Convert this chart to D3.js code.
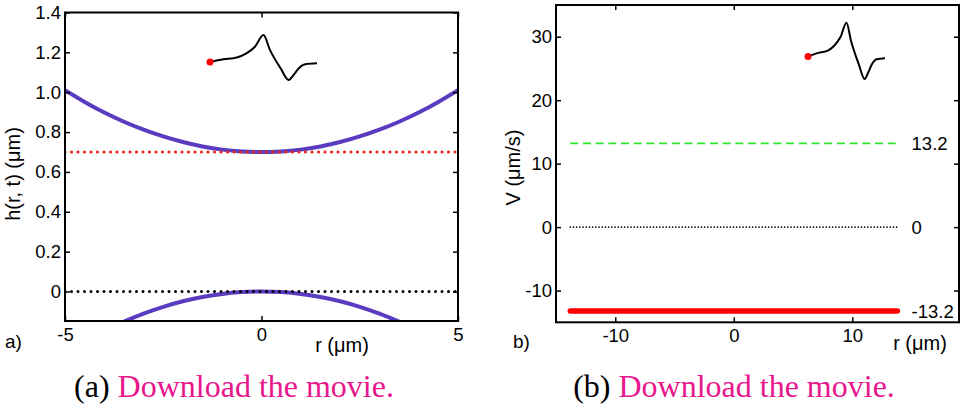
<!DOCTYPE html>
<html>
<head>
<meta charset="utf-8">
<script src="https://cdn.jsdelivr.net/npm/d3@7"></script>
<style>
  body { margin: 0; background: #fff; }
  svg { display: block; }
</style>
</head>
<body>
<div id="chart"></div>
<script>
// ---- data ----
// panel a: film profile h(r, t)
const rGrid  = [-5, -4.5, -4, -3.5, -3, -2.5, -2, -1.5, -1, -0.5, 0, 0.5, 1, 1.5, 2, 2.5, 3, 3.5, 4, 4.5, 5];
const hUpper = [1.010, 0.951, 0.898, 0.852, 0.812, 0.778, 0.750, 0.728, 0.712, 0.703, 0.700,
                0.703, 0.712, 0.728, 0.750, 0.778, 0.812, 0.852, 0.898, 0.951, 1.010];
const rLower = [-3.5, -3, -2.5, -2, -1.5, -1, -0.5, 0, 0.5, 1, 1.5, 2, 2.5, 3, 3.5];
const hLower = [-0.151, -0.111, -0.077, -0.049, -0.028, -0.012, -0.003, 0,
                -0.003, -0.012, -0.028, -0.049, -0.077, -0.111, -0.151];
const hGap = 0.7;
const hZero = 0;
const hTicksX = [-5, 0, 5];
const hTicksY = [0, 0.2, 0.4, 0.6, 0.8, 1.0, 1.2, 1.4];

// panel b: velocity V
const vLevels = [13.2, 0, -13.2];
const vLabels = ["13.2", "0", "-13.2"];
const vSpan = [-13.8, 13.8];
const vTicksX = [-10, 0, 10];
const vTicksY = [-10, 0, 10, 20, 30];

// small inset: time trace, red dot marks the current time
const insetT = [0, 0.125, 0.25, 0.34, 0.42, 0.50, 0.56, 0.66, 0.735, 0.78, 0.83, 0.89, 1.0];
const insetV = [0.40, 0.46, 0.50, 0.59, 0.74, 1.0, 0.67, 0.26, 0, 0.11, 0.26, 0.35, 0.37];

const captions = ["(a)", "(b)"];
const captionLink = "Download the movie.";

// ---- layout ----
const W = 965, H = 408;
const sans = "'Liberation Sans', Arial, sans-serif";
const serif = "'Liberation Serif', 'Times New Roman', serif";
const tickFs = 18.5;

const svg = d3.select("#chart").append("svg")
  .attr("width", W).attr("height", H);

// plain hyphen minus like the original
const intFmt = d => String(d);

// draw box + inward ticks on all four sides
function frame(g, x, y, xt, yt, fmt) {
  const [x0, x1] = x.range(), [y0, y1] = y.range();
  g.append("g").attr("transform", `translate(0,${y0})`)
    .call(d3.axisBottom(x).tickValues(xt).tickSize(-5).tickPadding(7).tickFormat(intFmt));
  g.append("g").attr("transform", `translate(0,${y1})`)
    .call(d3.axisTop(x).tickValues(xt).tickSize(-5).tickFormat(""));
  g.append("g").attr("transform", `translate(${x0},0)`)
    .call(d3.axisLeft(y).tickValues(yt).tickSize(-5).tickPadding(4).tickFormat(fmt));
  g.append("g").attr("transform", `translate(${x1},0)`)
    .call(d3.axisRight(y).tickValues(yt).tickSize(-5).tickFormat(""));
  g.selectAll(".domain").remove();
  g.selectAll(".tick line").attr("stroke", "#000").attr("stroke-width", 1.5);
  g.selectAll(".tick text").attr("font-family", sans).attr("font-size", tickFs).attr("fill", "#000");
  g.append("rect")
    .attr("x", x0).attr("y", y1).attr("width", x1 - x0).attr("height", y0 - y1)
    .attr("fill", "none").attr("stroke", "#000").attr("stroke-width", 2);
}

function inset(g, xr, yr) {
  const tx = d3.scaleLinear().domain([0, 1]).range(xr);
  const ty = d3.scaleLinear().domain([0, 1]).range(yr);
  const pts = insetT.map((t, i) => [t, insetV[i]]);
  g.append("path")
    .attr("d", d3.line().x(d => tx(d[0])).y(d => ty(d[1])).curve(d3.curveMonotoneX)(pts))
    .attr("fill", "none").attr("stroke", "#000").attr("stroke-width", 2);
  g.append("circle")
    .attr("cx", tx(insetT[0])).attr("cy", ty(insetV[0])).attr("r", 3.5)
    .attr("fill", "#ff0000");
}

// ---------------- panel a ----------------
const ga = svg.append("g");
const xa = d3.scaleLinear().domain([-5, 5]).range([65, 458]);
const ya = d3.scaleLinear().domain([-0.148, 1.4]).range([321, 12.5]);

ga.append("clipPath").attr("id", "clipA")
  .append("rect").attr("x", 65).attr("y", 12.5).attr("width", 393).attr("height", 308.5);

const pa = ga.append("g").attr("clip-path", "url(#clipA)");
const line = d3.line().curve(d3.curveNatural);

pa.append("path")
  .attr("d", line(rGrid.map((r, i) => [xa(r), ya(hUpper[i])])))
  .attr("fill", "none").attr("stroke", "#5a3cc0").attr("stroke-width", 4);
pa.append("path")
  .attr("d", line(rLower.map((r, i) => [xa(r), ya(hLower[i])])))
  .attr("fill", "none").attr("stroke", "#5a3cc0").attr("stroke-width", 4);

pa.append("line")
  .attr("x1", xa(-5)).attr("x2", xa(5)).attr("y1", ya(hGap)).attr("y2", ya(hGap))
  .attr("stroke", "#e8281a").attr("stroke-width", 3.2)
  .attr("stroke-linecap", "round").attr("stroke-dasharray", "0,6.5");
pa.append("line")
  .attr("x1", xa(-5)).attr("x2", xa(5)).attr("y1", ya(hZero)).attr("y2", ya(hZero))
  .attr("stroke", "#000").attr("stroke-width", 3)
  .attr("stroke-linecap", "round").attr("stroke-dasharray", "0,6.5");

frame(ga, xa, ya, hTicksX, hTicksY, d => d === 0 ? "0" : d.toFixed(1));
inset(ga, [210, 317], [80, 35]);

ga.append("text")
  .attr("transform", "translate(20,174) rotate(-90)")
  .attr("text-anchor", "middle").attr("font-family", sans).attr("font-size", 20)
  .text("h(r, t) (μm)");
ga.append("text").attr("x", 342).attr("y", 352)
  .attr("text-anchor", "middle").attr("font-family", sans).attr("font-size", 20)
  .text("r (μm)");
ga.append("text").attr("x", 5).attr("y", 348)
  .attr("font-family", sans).attr("font-size", 19).text("a)");

// ---------------- panel b ----------------
const gb = svg.append("g");
const xb = d3.scaleLinear().domain([-15, 19]).range([556, 959]);
const yb = d3.scaleLinear().domain([-15, 35]).range([322.3, 5]);

const vStyle = [
  { color: "#2ee62e", width: 1.6, dash: "8,4.7", cap: "butt" },
  { color: "#000", width: 1.7, dash: "0,3.2", cap: "round" },
  { color: "#ff0000", width: 5.5, dash: null, cap: "round" }
];

vLevels.forEach((v, i) => {
  const s = vStyle[i];
  gb.append("line")
    .attr("x1", xb(vSpan[0])).attr("x2", xb(vSpan[1]))
    .attr("y1", yb(v)).attr("y2", yb(v))
    .attr("stroke", s.color).attr("stroke-width", s.width)
    .attr("stroke-linecap", s.cap).attr("stroke-dasharray", s.dash);
  gb.append("text")
    .attr("x", xb(15)).attr("y", yb(v)).attr("dy", "0.36em")
    .attr("font-family", sans).attr("font-size", tickFs)
    .text(vLabels[i]);
});

frame(gb, xb, yb, vTicksX, vTicksY, intFmt);
inset(gb, [808, 885], [79, 22.7]);

gb.append("text")
  .attr("transform", "translate(520,167.5) rotate(-90)")
  .attr("text-anchor", "middle").attr("font-family", sans).attr("font-size", 20)
  .text("V (μm/s)");
gb.append("text").attr("x", 920).attr("y", 350)
  .attr("text-anchor", "middle").attr("font-family", sans).attr("font-size", 20)
  .text("r (μm)");
gb.append("text").attr("x", 513).attr("y", 348)
  .attr("font-family", sans).attr("font-size", 19).text("b)");

// ---------------- captions ----------------
[234, 734].forEach((cx, i) => {
  const t = svg.append("text").attr("x", cx).attr("y", 397)
    .attr("text-anchor", "middle").attr("font-family", serif).attr("font-size", 32);
  t.append("tspan").attr("fill", "#000").text(captions[i] + " ");
  t.append("tspan").attr("fill", "#e8168c").text(captionLink);
});
</script>
</body>
</html>
